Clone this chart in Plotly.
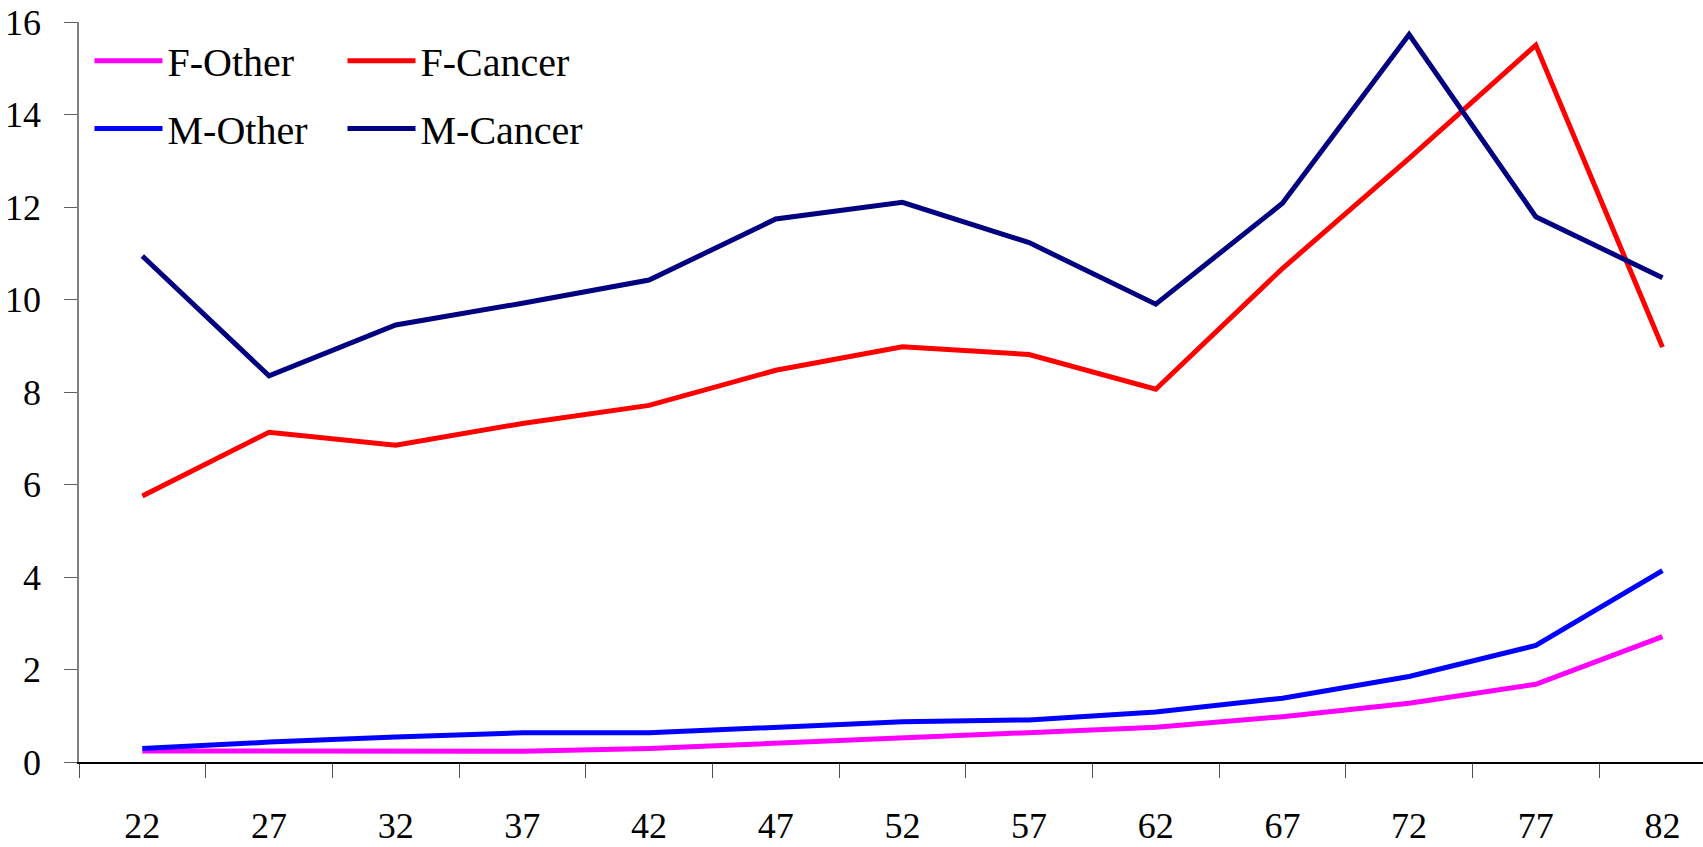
import plotly.graph_objects as go

ages = ["22", "27", "32", "37", "42", "47", "52", "57", "62", "67", "72", "77", "82"]
f_other = [0.24, 0.23, 0.23, 0.23, 0.29, 0.40, 0.52, 0.63, 0.75, 0.98, 1.27, 1.68, 2.71]
f_cancer = [5.75, 7.13, 6.85, 7.32, 7.71, 8.47, 8.98, 8.81, 8.06, 10.67, 13.05, 15.50, 8.97]
m_other = [0.29, 0.43, 0.54, 0.63, 0.63, 0.76, 0.87, 0.91, 1.08, 1.38, 1.85, 2.52, 4.14]
m_cancer = [10.94, 8.35, 9.45, 9.92, 10.42, 11.74, 12.10, 11.23, 9.90, 12.08, 15.73, 11.79, 10.47]

series = [
    ("F-Other", f_other, "#FF00FF", "legend"),
    ("F-Cancer", f_cancer, "#FF0000", "legend"),
    ("M-Other", m_other, "#0000FF", "legend2"),
    ("M-Cancer", m_cancer, "#000080", "legend2"),
]

fig = go.Figure()
for name, vals, color, lg in series:
    fig.add_trace(go.Scatter(
        x=ages, y=vals, name=name, mode="lines",
        line=dict(color=color, width=5),
        legend=lg,
    ))

W, H = 1703, 847
L, R, T, B = 79, 0, 22, 85
pw = W - L - R
ph = H - T - B
plot_bottom = H - B

legend_common = dict(
    orientation="h",
    font=dict(family="Liberation Serif, Times New Roman, serif", size=40, color="black"),
    bgcolor="rgba(0,0,0,0)",
    borderwidth=0,
    itemwidth=68,
    entrywidth=170,
    entrywidthmode="pixels",
    xanchor="left",
    yanchor="middle",
    tracegroupgap=0,
)

fig.update_layout(
    width=W, height=H,
    margin=dict(l=L, r=R, t=T, b=B, pad=0, autoexpand=False),
    paper_bgcolor="white",
    plot_bgcolor="white",
    font=dict(family="Liberation Serif, Times New Roman, serif", size=36, color="black"),
    legend=dict(x=10.5 / pw, y=(plot_bottom - 60.7) / ph, **legend_common),
    legend2=dict(x=10.5 / pw, y=(plot_bottom - 128.6) / ph, **legend_common),
    xaxis=dict(
        type="category",
        range=[-0.5, 12.32],
        tickson="boundaries",
        ticks="outside",
        ticklen=14,
        tickcolor="#505050",
        tickwidth=1,
        showline=True,
        linecolor="black",
        linewidth=1.5,
        showgrid=False,
        zeroline=False,
        automargin=False,
        ticklabelstandoff=31,
        tickfont=dict(size=36),
    ),
    yaxis=dict(
        range=[0, 16],
        dtick=2,
        ticks="outside",
        ticklen=13,
        tickcolor="#606060",
        showline=True,
        linecolor="#808080",
        linewidth=1.5,
        showgrid=False,
        zeroline=False,
        automargin=False,
        ticklabelstandoff=16,
        ticklabeloverflow="allow",
        tickfont=dict(size=36),
    ),
    showlegend=True,
)

fig.write_html(
    "out.html",
    config={"displayModeBar": False},
    post_script="document.body.style.margin='0';document.body.style.overflow='hidden';",
)
